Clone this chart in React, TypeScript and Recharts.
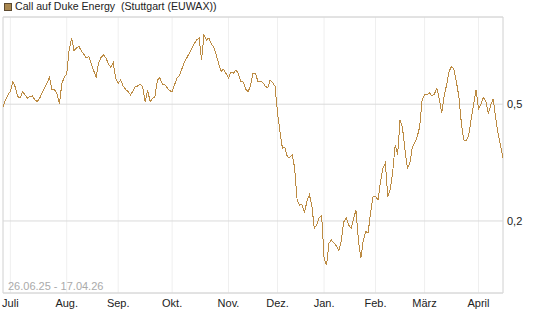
import { LineChart, Line, XAxis, YAxis, CartesianGrid, ReferenceArea } from "recharts";

// month labels and the first trading day of each month
const monthLabels = ["Juli", "Aug.", "Sep.", "Okt.", "Nov.", "Dez.", "Jan.", "Feb.", "März", "April"];
const monthStarts = [
  "2025-07-01", "2025-08-01", "2025-09-01", "2025-10-01", "2025-11-03",
  "2025-12-01", "2026-01-02", "2026-02-02", "2026-03-02", "2026-04-01",
];
const holidays = ["2025-12-24", "2025-12-25", "2025-12-26", "2025-12-31", "2026-01-01", "2026-04-03", "2026-04-06"];
const firstDay = "2025-06-26";

// daily closes
const prices = [
  0.493, 0.511, 0.524, 0.533, 0.558, 0.544, 0.520, 0.516, 0.532, 0.524,
  0.516, 0.520, 0.521, 0.511, 0.507, 0.516, 0.529, 0.542, 0.555, 0.569,
  0.537, 0.538, 0.526, 0.501, 0.552, 0.570, 0.578, 0.640, 0.670, 0.637,
  0.645, 0.648, 0.637, 0.628, 0.619, 0.622, 0.604, 0.586, 0.570, 0.606,
  0.620, 0.627, 0.619, 0.604, 0.594, 0.606, 0.565, 0.554, 0.562, 0.547,
  0.538, 0.533, 0.524, 0.533, 0.545, 0.547, 0.551, 0.544, 0.506, 0.537,
  0.507, 0.514, 0.520, 0.562, 0.568, 0.552, 0.550, 0.542, 0.535, 0.532,
  0.550, 0.568, 0.573, 0.591, 0.609, 0.619, 0.631, 0.643, 0.655, 0.665,
  0.670, 0.614, 0.678, 0.665, 0.670, 0.655, 0.646, 0.627, 0.604, 0.584,
  0.590, 0.579, 0.567, 0.583, 0.579, 0.588, 0.580, 0.558, 0.557, 0.539,
  0.532, 0.547, 0.580, 0.580, 0.558, 0.559, 0.556, 0.546, 0.542, 0.562,
  0.556, 0.546, 0.478, 0.430, 0.387, 0.390, 0.365, 0.363, 0.370, 0.336,
  0.254, 0.241, 0.242, 0.221, 0.251, 0.267, 0.241, 0.181, 0.190, 0.208,
  0.215, 0.105, 0.087, 0.143, 0.151, 0.144, 0.136, 0.124, 0.149, 0.197,
  0.208, 0.190, 0.181, 0.205, 0.228, 0.151, 0.104, 0.151, 0.172, 0.171,
  0.223, 0.264, 0.264, 0.254, 0.300, 0.336, 0.349, 0.262, 0.282, 0.326,
  0.395, 0.370, 0.460, 0.439, 0.383, 0.336, 0.348, 0.389, 0.401, 0.416,
  0.442, 0.511, 0.524, 0.524, 0.529, 0.521, 0.526, 0.541, 0.514, 0.477,
  0.521, 0.550, 0.584, 0.597, 0.589, 0.557, 0.519, 0.452, 0.408, 0.406,
  0.419, 0.462, 0.498, 0.537, 0.488, 0.501, 0.517, 0.508, 0.475, 0.498,
  0.514, 0.465, 0.424, 0.393, 0.361,
];

const yTicks = [0.2, 0.5];
const yDomain = [0.015, 0.724];

// trading days (weekdays minus exchange holidays)
function tradingDays(start: string, count: number): string[] {
  const out: string[] = [];
  const d = new Date(start + "T00:00:00Z");
  while (out.length < count) {
    const iso = d.toISOString().slice(0, 10);
    const wd = d.getUTCDay();
    if (wd !== 0 && wd !== 6 && !holidays.includes(iso)) out.push(iso);
    d.setUTCDate(d.getUTCDate() + 1);
  }
  return out;
}

const dates = tradingDays(firstDay, prices.length);
const data = prices.map((price, i) => ({ i, date: dates[i], price }));
const monthTicks = monthStarts.map((m) => dates.indexOf(m));

const font = '"Liberation Sans", Arial, sans-serif';
const lineColor = "#bc8b43";

export default function App() {
  return (
    <div style={{ position: "absolute", left: 0, top: 0, width: 545, height: 327, fontFamily: font }}>
      <div style={{ position: "absolute", left: 4, top: 3, width: 6, height: 6, background: "#a9874f", border: "1px solid #5c4a30" }} />
      <div style={{ position: "absolute", left: 15, top: 0, fontSize: 10.6, lineHeight: "13px", color: "#222", whiteSpace: "pre" }}>
        {"Call auf Duke Energy  (Stuttgart (EUWAX))"}
      </div>
      <LineChart width={545} height={327} data={data} margin={{ top: 17, right: 0, bottom: 0, left: 3 }}>
        <CartesianGrid horizontal={false} stroke="#efefef" />
        <CartesianGrid vertical={false} stroke="#dadada" />
        <XAxis
          dataKey="i"
          type="number"
          domain={[0, prices.length - 1]}
          ticks={monthTicks}
          interval={0}
          tickFormatter={(v: number) => monthLabels[monthTicks.indexOf(v)] ?? ""}
          tickLine={false}
          axisLine={false}
          tickSize={0}
          tickMargin={6}
          height={34}
          tick={{ fill: "#222", fontSize: 11, fontFamily: font }}
        />
        <YAxis
          orientation="right"
          type="number"
          domain={yDomain}
          ticks={yTicks}
          interval={0}
          allowDataOverflow
          tickFormatter={(v: number) => String(v).replace(".", ",")}
          tickLine={false}
          axisLine={false}
          tickSize={0}
          tickMargin={4}
          width={42}
          tick={{ fill: "#222", fontSize: 11, fontFamily: font }}
        />
        <ReferenceArea x1={0} x2={prices.length - 1} y1={yDomain[0]} y2={yDomain[1]} fill="none" stroke="#d8d8d8" />
        <Line
          type="linear"
          dataKey="price"
          stroke={lineColor}
          strokeWidth={1}
          dot={false}
          shapeRendering="crispEdges"
          isAnimationActive={false}
        />
      </LineChart>
      <div style={{ position: "absolute", left: 8, top: 280, fontSize: 11, lineHeight: "13px", color: "#aaa" }}>
        26.06.25 - 17.04.26
      </div>
    </div>
  );
}
